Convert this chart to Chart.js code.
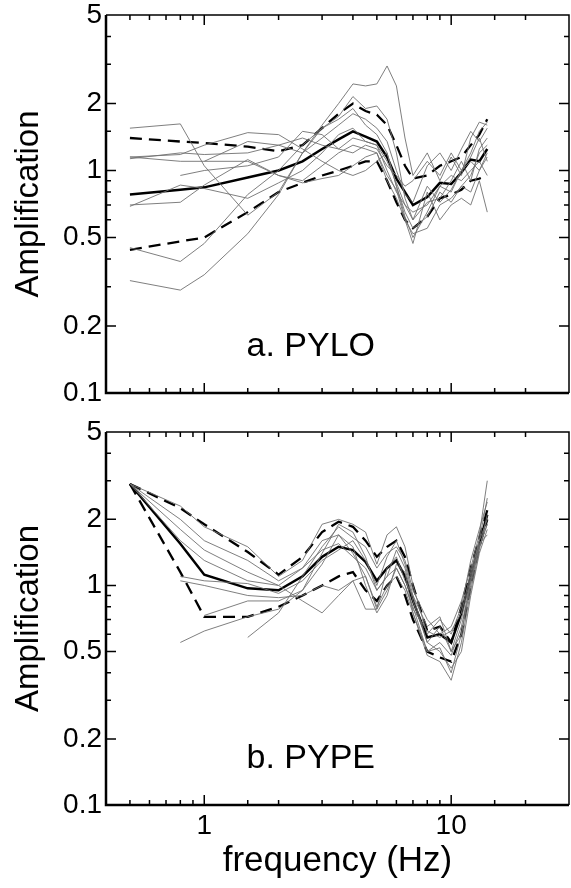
<!DOCTYPE html>
<html>
<head>
<meta charset="utf-8">
<script src="https://cdn.jsdelivr.net/npm/chart.js@4.4.1/dist/chart.umd.min.js"></script>
<style>
  html, body { margin: 0; padding: 0; background: #fff; }
  #wrap { position: relative; width: 571px; height: 888px; }
  canvas { position: absolute; left: 0; }
  #topChart { top: 0; }
  #bottomChart { top: 412px; }
</style>
</head>
<body>
<div id="wrap">
  <canvas id="topChart" width="571" height="412"></canvas>
  <canvas id="bottomChart" width="571" height="476"></canvas>
</div>
<script>
// frequencies (Hz) shared by both stations
const freqs = [0.5, 0.8, 1, 1.5, 2, 2.5, 3, 3.5, 4, 4.5, 5, 5.5, 6, 6.5, 7, 8, 9, 10, 11, 12, 13, 14];

// tick labels (log axes)
const yLabels = [0.1, 0.2, 0.5, 1, 2, 5];
const xLabels = [1, 10];

// ---- a. PYLO ----
const pyloMean  = [0.78, 0.82, 0.84, 0.93, 1.0, 1.1, 1.25, 1.38, 1.5, 1.42, 1.35, 1.15, 0.92, 0.8, 0.7, 0.76, 0.88, 0.87, 0.98, 1.12, 1.1, 1.25];
const pyloUpper = [1.4, 1.35, 1.33, 1.28, 1.22, 1.3, 1.55, 1.8, 2.0, 1.85, 1.78, 1.6, 1.3, 1.05, 0.92, 0.95, 1.05, 1.1, 1.15, 1.3, 1.45, 1.7];
const pyloLower = [0.44, 0.48, 0.5, 0.65, 0.8, 0.88, 0.95, 1.0, 1.05, 1.1, 1.1, 0.9, 0.72, 0.6, 0.55, 0.62, 0.75, 0.78, 0.82, 0.9, 0.92, 0.95];
const pyloSingle = [
  [1.55, 1.62, 1.05, 0.63, 0.8, 1.2, 1.55, 1.7, 1.9, 1.6, 1.45, 1.2, 0.85, 0.62, 0.5, 0.65, 0.85, 0.8, 1.0, 1.2, 1.5, 1.65],
  [0.32, 0.29, 0.34, 0.52, 0.78, 1.2, 1.6, 2.0, 2.45, 2.4, 2.45, 2.95, 2.4, 1.4, 0.95, 1.2, 0.9, 1.15, 0.95, 1.4, 1.65, 1.6],
  [0.45, 0.39, 0.47, 0.78, 1.0, 1.3, 1.55, 1.75, 2.15, 1.9, 1.95, 1.7, 1.2, 0.75, 0.6, 0.72, 0.75, 0.9, 1.1, 0.9, 1.25, 1.4],
  [1.13, 1.2, 1.18, 1.2, 1.3, 1.4, 1.3, 1.25, 1.4, 1.35, 1.3, 1.0, 0.8, 0.7, 0.65, 0.7, 0.85, 0.95, 0.9, 1.0, 1.1, 0.95],
  [0.7, 0.72, 0.86, 1.12, 0.95, 0.9, 1.05, 1.2, 1.3, 1.25, 1.2, 0.95, 0.82, 0.6, 0.47, 0.8, 0.6, 0.7, 0.75, 0.7, 0.9, 0.65],
  [0.69, 0.86, 0.83, 0.75, 0.88, 1.0, 1.2, 1.45, 1.55, 1.35, 1.3, 1.1, 0.88, 0.7, 0.6, 0.85, 0.72, 0.82, 1.0, 1.1, 1.0, 1.15],
  [null, 0.95, 1.0, 1.05, 1.15, 1.5, 1.45, 1.25, 1.2, 1.3, 1.25, 1.05, 0.95, 0.85, 0.9, 1.1, 0.95, 1.2, 1.0, 1.15, 1.4, 1.1],
  [1.15, 1.18, 1.3, 1.48, 1.45, 1.25, 1.1, 1.0, 0.95, 1.0, 1.1, 1.2, 0.85, 0.65, 0.55, 0.62, 0.8, 0.72, 0.85, 0.8, 1.0, 1.2],
  [null, null, 1.1, 1.1, 0.95, 0.88, 0.92, 0.95, 1.05, 1.15, 1.2, 0.9, 0.75, 0.6, 0.52, 0.55, 0.7, 0.75, 0.85, 0.95, 1.2, 1.3],
  [1.15, 1.1, 1.1, 1.35, 1.3, 1.2, 1.4, 1.6, 1.8, 1.7, 1.55, 1.35, 1.0, 0.78, 0.72, 1.05, 1.2, 1.0, 1.25, 1.5, 1.35, 1.55]
];

// ---- b. PYPE ----
const pypeMean  = [2.9, 1.55, 1.12, 0.97, 0.95, 1.1, 1.35, 1.5, 1.45, 1.28, 1.05, 1.2, 1.3, 1.1, 0.85, 0.58, 0.6, 0.55, 0.75, 1.1, 1.55, 2.1];
const pypeUpper = [2.9, 2.25, 1.9, 1.42, 1.12, 1.35, 1.75, 1.95, 1.85, 1.6, 1.35, 1.5, 1.6, 1.35, 1.0, 0.62, 0.65, 0.55, 0.8, 1.2, 1.65, 2.2];
const pypeLower = [2.9, 1.15, 0.72, 0.72, 0.8, 0.9, 1.0, 1.1, 1.15, 0.95, 0.85, 1.0, 1.1, 0.9, 0.7, 0.5, 0.47, 0.45, 0.6, 1.0, 1.5, 2.0];
const pypeSingle = [
  [2.9, 2.3, 1.85, 1.5, 1.1, 1.3, 1.9, 2.0, 1.9, 1.75, 1.25, 1.7, 1.85, 1.5, 1.0, 0.6, 0.7, 0.6, 0.8, 1.3, 1.8, 2.4],
  [2.9, 2.0, 1.6, 1.3, 1.05, 1.2, 1.6, 1.7, 1.4, 1.1, 0.78, 0.95, 1.2, 1.0, 0.8, 0.5, 0.55, 0.48, 0.65, 1.05, 1.5, 1.9],
  [null, 1.1, 1.05, 1.02, 0.92, 1.05, 1.3, 1.45, 1.6, 1.3, 1.0, 1.35, 1.6, 1.25, 0.9, 0.65, 0.72, 0.5, 0.7, 1.1, 1.6, 2.0],
  [null, null, 0.73, 0.85, 0.85, 0.95, 1.25, 1.7, 1.5, 1.0, 0.75, 0.9, 1.25, 1.15, 0.75, 0.48, 0.45, 0.37, 0.55, 0.95, 1.45, 2.1],
  [null, 0.55, 0.62, 0.72, 0.78, 0.95, 1.4, 1.9, 1.75, 1.35, 0.95, 1.1, 1.45, 1.2, 0.85, 0.55, 0.5, 0.42, 0.5, 0.9, 1.4, 1.8],
  [null, null, null, 0.58, 0.75, 1.1, 1.5, 1.85, 1.65, 1.5, 1.2, 1.4, 1.5, 1.3, 0.95, 0.7, 0.6, 0.65, 0.85, 1.2, 1.7, 3.0],
  [2.9, 1.6, 1.3, 1.05, 1.0, 0.85, 0.75, 0.9, 1.05, 0.78, 0.78, 1.2, 1.35, 1.05, 0.9, 0.55, 0.65, 0.5, 0.6, 1.05, 1.55, 1.7],
  [2.9, 1.8, 1.45, 1.15, 1.0, 1.2, 1.45, 1.55, 1.35, 1.2, 0.95, 1.1, 1.2, 1.0, 0.78, 0.62, 0.58, 0.62, 0.75, 1.15, 1.6, 2.5],
  [null, 1.05, 1.0, 0.9, 0.88, 0.9, 1.0, 0.95, 1.05, 1.1, 0.8, 1.0, 1.1, 0.95, 0.75, 0.5, 0.52, 0.4, 0.6, 1.0, 1.5, 1.9]
];

const FONT = '"Liberation Sans", Arial, Helvetica, sans-serif';

function near(v, list) {
    return list.some(m => Math.abs(v - m) / m < 1e-6);
}

function toPoints(values) {
    return freqs.map((f, i) => ({ x: f, y: values[i] }));
}

function buildDatasets(single, upper, lower, mean) {
    const sets = single.map(vals => ({
        data: toPoints(vals),
        borderColor: '#707070',
        borderWidth: 0.9
    }));
    sets.push({ data: toPoints(upper), borderColor: '#000', borderWidth: 2.3, borderDash: [12, 7] });
    sets.push({ data: toPoints(lower), borderColor: '#000', borderWidth: 2.3, borderDash: [12, 7] });
    sets.push({ data: toPoints(mean), borderColor: '#000', borderWidth: 2.5 });
    return sets;
}

// box, inward ticks on all four sides, station label
const frameTicks = {
    id: 'frameTicks',
    afterDraw(chart, args, opts) {
        const { ctx, chartArea: a, scales: { x, y } } = chart;
        ctx.save();
        ctx.strokeStyle = '#000';
        ctx.lineWidth = 2.5;
        ctx.beginPath();
        ctx.moveTo(a.left, a.top); ctx.lineTo(a.left, a.bottom); ctx.lineTo(a.right, a.bottom);
        ctx.stroke();
        ctx.lineWidth = 1.5;
        ctx.beginPath();
        ctx.moveTo(a.left, a.top); ctx.lineTo(a.right, a.top); ctx.lineTo(a.right, a.bottom);
        ctx.stroke();

        ctx.beginPath();
        x.ticks.forEach(t => {
            const px = x.getPixelForValue(t.value);
            if (px <= a.left + 1 || px >= a.right - 1) return;
            const len = near(t.value, xLabels) ? 10 : 5;
            ctx.moveTo(px, a.bottom); ctx.lineTo(px, a.bottom - len);
            ctx.moveTo(px, a.top); ctx.lineTo(px, a.top + len);
        });
        y.ticks.forEach(t => {
            const py = y.getPixelForValue(t.value);
            if (py <= a.top + 1 || py >= a.bottom - 1) return;
            const len = near(t.value, yLabels) ? 10 : 5;
            ctx.moveTo(a.left, py); ctx.lineTo(a.left + len, py);
            ctx.moveTo(a.right, py); ctx.lineTo(a.right - len, py);
        });
        ctx.stroke();

        ctx.fillStyle = '#000';
        ctx.font = '34px ' + FONT;
        ctx.textAlign = 'center';
        ctx.textBaseline = 'middle';
        ctx.fillText(opts.label, x.getPixelForValue(2.7), y.getPixelForValue(0.162));
        ctx.restore();
    }
};

function makeChart(id, datasets, label, showX, padTop, plotBottom, canvasH) {
    const ctx = document.getElementById(id).getContext('2d');
    return new Chart(ctx, {
        type: 'line',
        data: { datasets: datasets },
        options: {
            responsive: false,
            animation: false,
            devicePixelRatio: 1,
            layout: { padding: { top: padTop, right: 2, left: 0, bottom: 0 } },
            elements: { point: { radius: 0 }, line: { tension: 0 } },
            plugins: {
                legend: { display: false },
                tooltip: { enabled: false },
                frameTicks: { label: label }
            },
            scales: {
                x: {
                    type: 'logarithmic',
                    min: 0.4,
                    max: 30,
                    grid: { display: false, drawTicks: false },
                    border: { display: false },
                    ticks: {
                        display: showX,
                        autoSkip: false,
                        maxRotation: 0,
                        padding: 4,
                        color: '#000',
                        font: { family: FONT, size: 28 },
                        callback: v => near(v, xLabels) ? String(v) : ''
                    },
                    title: {
                        display: showX,
                        text: 'frequency (Hz)',
                        color: '#000',
                        font: { family: FONT, size: 35 },
                        padding: { top: 0, bottom: 6 }
                    },
                    afterFit: s => { s.height = canvasH - plotBottom; s.paddingLeft = 0; s.paddingRight = 0; }
                },
                y: {
                    type: 'logarithmic',
                    min: 0.1,
                    max: 5,
                    grid: { display: false, drawTicks: false },
                    border: { display: false },
                    ticks: {
                        autoSkip: false,
                        padding: 4,
                        color: '#000',
                        font: { family: FONT, size: 28 },
                        callback: v => near(v, yLabels) ? String(+v.toPrecision(3)) : ''
                    },
                    title: {
                        display: true,
                        text: 'Amplification',
                        color: '#000',
                        font: { family: FONT, size: 33 },
                        padding: { top: 9, bottom: 0 }
                    },
                    afterFit: s => { s.width = 106; s.paddingTop = 0; s.paddingBottom = 0; }
                }
            }
        },
        plugins: [frameTicks]
    });
}

makeChart('topChart', buildDatasets(pyloSingle, pyloUpper, pyloLower, pyloMean), 'a. PYLO', false, 15, 393, 412);
makeChart('bottomChart', buildDatasets(pypeSingle, pypeUpper, pypeLower, pypeMean), 'b. PYPE', true, 20, 393, 476);
</script>
</body>
</html>
